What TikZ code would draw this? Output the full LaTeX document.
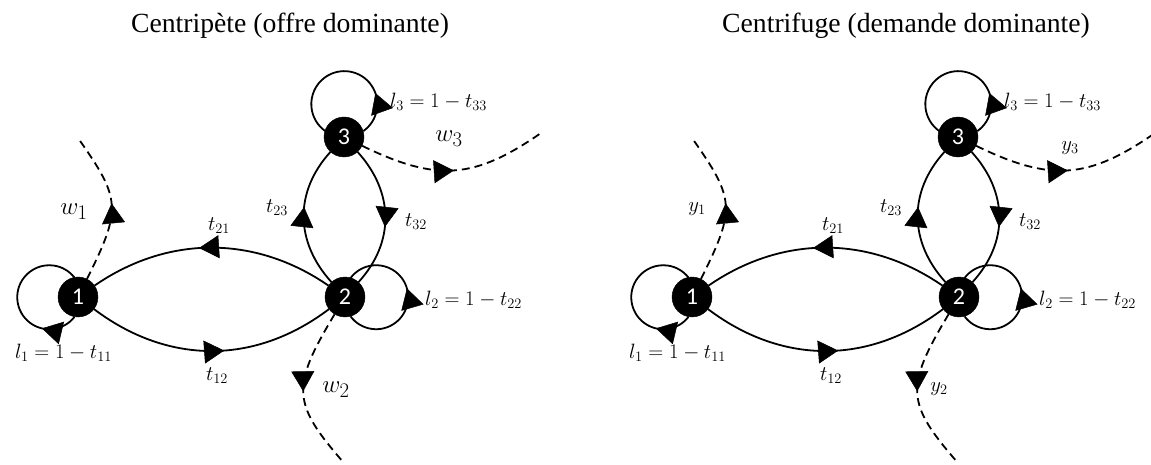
\documentclass[tikz,border=0pt]{standalone}
\usepackage[no-math]{fontspec}
\setmainfont{Liberation Serif}
\newfontfamily\numfont{Carlito}
\usetikzlibrary{arrows.meta,decorations.markings}
\tikzset{
 num/.style={circle,fill=black,draw=black,minimum size=40pt,inner sep=0pt,text=white,font=\numfont\fontsize{24}{24}\selectfont},
 solidline/.style={line width=1.8pt},
 dashline/.style={line width=1.8pt,dash pattern=on 8pt off 5pt},
 midtip/.style={postaction={decorate,decoration={markings,mark=at position #1 with {\arrow[solid,line width=0.5pt]{Triangle[length=20pt,width=23pt]}}}}},
 lab/.style={font=\fontsize{21.5}{24}\selectfont,inner sep=0pt},
 wlab/.style={font=\fontsize{29}{32}\selectfont,inner sep=0pt},
 ttl/.style={font=\fontsize{27.7}{32}\selectfont,anchor=base,inner sep=0pt},
}
\newcommand\drawnet[2]{%
\begin{scope}[xshift=#2pt]
\node[num] (#1n1) at (78,167) {1};
\node[num] (#1n2) at (345,167) {2};
\node[num] (#1n3) at (344,327) {3};
\coordinate (#1e1) at (78,326);
\coordinate (#1e2) at (344,1);
\coordinate (#1e3) at (541,331);
\draw[solidline,midtip=0.55] (#1n2) .. controls +(-90,62) and +(90,62) .. (#1n1);
\draw[solidline,midtip=0.55] (#1n1) .. controls +(90,-68) and +(-90,-68) .. (#1n2);
\draw[solidline,midtip=0.57] (#1n2) .. controls +(-50,55) and +(-50,-55) .. (#1n3);
\draw[solidline,midtip=0.57] (#1n3) .. controls +(50,-55) and +(50,55) .. (#1n2);
\draw[solidline,midtip=0.23] (#1n1.-100.8) arc[start angle=-37.9,end angle=-322.1,radius=32];
\draw[solidline,midtip=0.556] (#1n2.-74.3) arc[start angle=-143.1,end angle=143.1,radius=32];
\draw[solidline,midtip=0.257] (#1n3.17.5) arc[start angle=-54.8,end angle=234.8,radius=33];
\draw[dashline,midtip=0.52] (#1n1) .. controls +(44,88.4) and +(43,-61) .. (#1e1);
\draw[dashline,midtip=0.5] (#1n2) .. controls +(-54.5,-90.6) and +(-51.9,59.6) .. (#1e2);
\draw[dashline,midtip=0.5] (#1n3) .. controls +(92.8,-45.1) and +(-66.8,-46.3) .. (#1e3);
\node[lab] (#1t21) at (219,238) {$t_{21}$};
\node[lab] (#1t12) at (217,88) {$t_{12}$};
\node[lab] (#1t23) at (277,256) {$t_{23}$};
\node[lab] (#1t32) at (416,242) {$t_{32}$};
\node[lab] (#1l1) at (63.5,111) {$l_1 = 1 - t_{11}$};
\node[lab,anchor=west] (#1l2) at (425,164) {$l_2 = 1 - t_{22}$};
\node[lab,anchor=west] (#1l3) at (390,362) {$l_3 = 1 - t_{33}$};
\end{scope}}
\begin{document}
\begin{tikzpicture}[x=1pt,y=1pt]
\useasboundingbox (0,0) rectangle (1151,464);
\node[ttl] (title1) at (290,431) {Centripète (offre dominante)};
\node[ttl] (title2) at (906,431) {Centrifuge (demande dominante)};
\drawnet{a}{0}
\drawnet{b}{614}
\node[wlab] (w1) at (74,252) {$w_1$};
\node[wlab] (w2) at (336,74) {$w_2$};
\node[wlab] (w3) at (449,325) {$w_3$};
\node[lab] (y1) at (697,255) {$y_1$};
\node[lab] (y2) at (939,75) {$y_2$};
\node[lab] (y3) at (1070,316) {$y_3$};
\end{tikzpicture}
\end{document}
